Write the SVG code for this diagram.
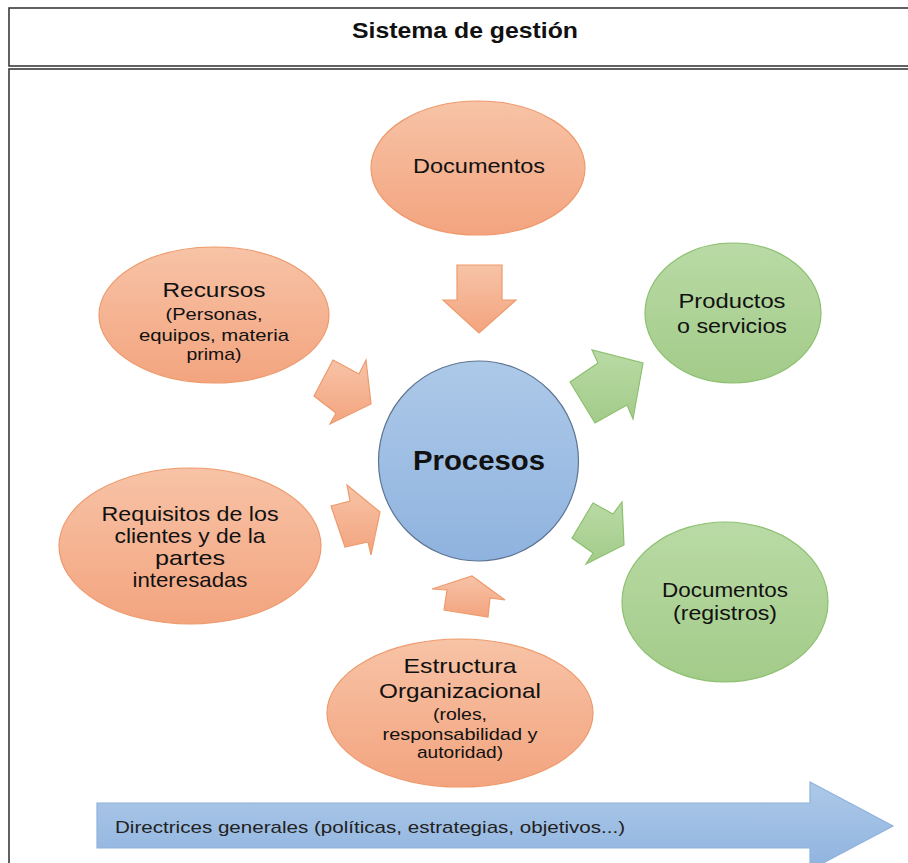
<svg xmlns="http://www.w3.org/2000/svg" width="908" height="863" viewBox="0 0 908 863">
<defs>
<linearGradient id="gO" x1="0" y1="0" x2="0" y2="1"><stop offset="0" stop-color="#f7c3a6"/><stop offset="1" stop-color="#f3a47f"/></linearGradient>
<linearGradient id="gG" x1="0" y1="0" x2="0" y2="1"><stop offset="0" stop-color="#b9daa5"/><stop offset="1" stop-color="#a3cb89"/></linearGradient>
<linearGradient id="gB" x1="0" y1="0" x2="0" y2="1"><stop offset="0" stop-color="#adc9e8"/><stop offset="1" stop-color="#8fb3df"/></linearGradient>
<style>
.frame{fill:#fff;stroke:#3a3a3a;stroke-width:1.6}
.o{fill:url(#gO);stroke:#ee9a6c;stroke-width:1.2}
.g{fill:url(#gG);stroke:#8dc070;stroke-width:1.2}
.b{fill:url(#gB);stroke:#5f7592;stroke-width:1.2}
.ba{fill:url(#gB);stroke:#8fb1dc;stroke-width:1.2}
text{font-family:"Liberation Sans",Arial,sans-serif;fill:#111;text-anchor:middle}
.m{font-size:21px}
.s{font-size:17px}
.t{font-size:22px;font-weight:bold}
.p{font-size:28px;font-weight:bold}
.d{font-size:17px;text-anchor:start;fill:#222}
</style>
</defs>
<rect class="frame" x="9" y="8" width="910" height="58"/>
<rect class="frame" x="9" y="69" width="910" height="820"/>
<text class="t" x="465" y="38" textLength="226" lengthAdjust="spacingAndGlyphs">Sistema de gestión</text>

<g id="connectors">
<polygon class="o" points="457,265 502,265 502,300 516,300 479,333 443,300 457,300"/>
<polygon class="o" points="333,360 359,374 366,360 371,404 330,424 336,413 314,396"/>
<polygon class="o" points="331,506 350,501 347,485 380,512 371,555 368,542 345,547"/>
<polygon class="o" points="444,610 447,590 432,589 472,576 505,600 490,598 488,617"/>
<polygon class="g" points="570,382 598,363 592,350 643,363 633,419 627,405 595,423"/>
<polygon class="g" points="593,503 613,514 622,502 624,545 586,564 593,553 572,538"/>
</g>

<g id="documentos">
<ellipse class="o" cx="478" cy="168" rx="107" ry="67"/>
<text class="m" x="479" y="173" textLength="132" lengthAdjust="spacingAndGlyphs">Documentos</text>
</g>
<g id="recursos">
<ellipse class="o" cx="214" cy="315" rx="115" ry="68"/>
<text class="m" x="214" y="297" textLength="103" lengthAdjust="spacingAndGlyphs">Recursos</text>
<text class="s" x="214" y="320" textLength="97" lengthAdjust="spacingAndGlyphs">(Personas,</text>
<text class="s" x="214" y="341" textLength="150" lengthAdjust="spacingAndGlyphs">equipos, materia</text>
<text class="s" x="214" y="360" textLength="55" lengthAdjust="spacingAndGlyphs">prima)</text>
</g>
<g id="requisitos">
<ellipse class="o" cx="190" cy="546" rx="131" ry="78"/>
<text class="m" x="190" y="521" textLength="177" lengthAdjust="spacingAndGlyphs">Requisitos de los</text>
<text class="m" x="190" y="543" textLength="151" lengthAdjust="spacingAndGlyphs">clientes y de la</text>
<text class="m" x="190" y="565" textLength="70" lengthAdjust="spacingAndGlyphs">partes</text>
<text class="m" x="190" y="587" textLength="115" lengthAdjust="spacingAndGlyphs">interesadas</text>
</g>
<g id="procesos">
<circle class="b" cx="478.5" cy="461" r="100"/>
<text class="p" x="479" y="470" textLength="132" lengthAdjust="spacingAndGlyphs">Procesos</text>
</g>
<g id="productos">
<ellipse class="g" cx="733" cy="313" rx="88" ry="70"/>
<text class="m" x="732" y="308" textLength="107" lengthAdjust="spacingAndGlyphs">Productos</text>
<text class="m" x="732" y="333" textLength="110" lengthAdjust="spacingAndGlyphs">o servicios</text>
</g>
<g id="registros">
<ellipse class="g" cx="725" cy="602" rx="103" ry="80"/>
<text class="m" x="725" y="597" textLength="126" lengthAdjust="spacingAndGlyphs">Documentos</text>
<text class="m" x="725" y="620" textLength="104" lengthAdjust="spacingAndGlyphs">(registros)</text>
</g>
<g id="estructura">
<ellipse class="o" cx="460" cy="713" rx="133" ry="74"/>
<text class="m" x="460" y="673" textLength="113" lengthAdjust="spacingAndGlyphs">Estructura</text>
<text class="m" x="460" y="698" textLength="162" lengthAdjust="spacingAndGlyphs">Organizacional</text>
<text class="s" x="460" y="720" textLength="54" lengthAdjust="spacingAndGlyphs">(roles,</text>
<text class="s" x="460" y="740" textLength="155" lengthAdjust="spacingAndGlyphs">responsabilidad y</text>
<text class="s" x="460" y="758" textLength="86" lengthAdjust="spacingAndGlyphs">autoridad)</text>
</g>
<g id="directrices">
<polygon class="ba" points="97,803 810,803 810,782 893,826 810,870 810,848 97,848"/>
<text class="d" x="115" y="833" textLength="510" lengthAdjust="spacingAndGlyphs">Directrices generales (políticas, estrategias, objetivos...)</text>
</g>
</svg>
